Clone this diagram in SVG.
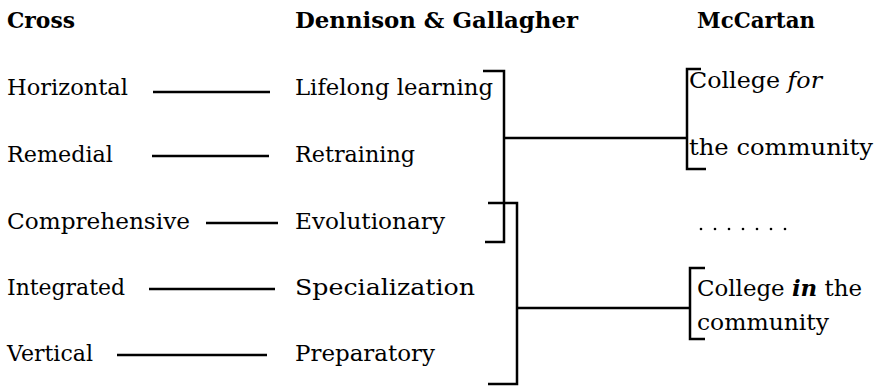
<svg xmlns="http://www.w3.org/2000/svg" width="885" height="389" viewBox="0 0 885 389">
  <style>
    .t { font-family: "DejaVu Serif", "Liberation Serif", serif; font-size: 22px; fill: #000; }
    .h { font-family: "DejaVu Serif", "Liberation Serif", serif; font-size: 22px; font-weight: bold; fill: #000; }
    .ln { stroke: #000; stroke-width: 2.5; fill: none; stroke-linecap: butt; stroke-linejoin: miter; }
    .dot { fill: #000; }
  </style>
  <rect width="885" height="389" fill="#fff"/>

  <g id="headers">
    <text class="h" x="7" y="28" textLength="68" lengthAdjust="spacingAndGlyphs">Cross</text>
    <text class="h" x="295" y="28" textLength="283" lengthAdjust="spacingAndGlyphs">Dennison &amp; Gallagher</text>
    <text class="h" x="697" y="28" textLength="118" lengthAdjust="spacingAndGlyphs">McCartan</text>
  </g>

  <g id="cross-horizontal"><text class="t" x="7" y="95" textLength="121" lengthAdjust="spacingAndGlyphs">Horizontal</text></g>
  <g id="cross-remedial"><text class="t" x="7" y="162" textLength="106" lengthAdjust="spacingAndGlyphs">Remedial</text></g>
  <g id="cross-comprehensive"><text class="t" x="7" y="229" textLength="183" lengthAdjust="spacingAndGlyphs">Comprehensive</text></g>
  <g id="cross-integrated"><text class="t" x="7" y="295" textLength="118" lengthAdjust="spacingAndGlyphs">Integrated</text></g>
  <g id="cross-vertical"><text class="t" x="7" y="361" textLength="86" lengthAdjust="spacingAndGlyphs">Vertical</text></g>

  <g id="dg-lifelong"><text class="t" x="295" y="95" textLength="198" lengthAdjust="spacingAndGlyphs">Lifelong learning</text></g>
  <g id="dg-retraining"><text class="t" x="295" y="162" textLength="120" lengthAdjust="spacingAndGlyphs">Retraining</text></g>
  <g id="dg-evolutionary"><text class="t" x="295" y="229" textLength="150" lengthAdjust="spacingAndGlyphs">Evolutionary</text></g>
  <g id="dg-specialization"><text class="t" x="295" y="295" textLength="180" lengthAdjust="spacingAndGlyphs">Specialization</text></g>
  <g id="dg-preparatory"><text class="t" x="295" y="361" textLength="140" lengthAdjust="spacingAndGlyphs">Preparatory</text></g>

  <g id="mc-for">
    <text class="t" x="689" y="88" textLength="133" lengthAdjust="spacingAndGlyphs">College <tspan font-style="italic">for</tspan></text>
    <text class="t" x="689" y="155" textLength="184" lengthAdjust="spacingAndGlyphs">the community</text>
  </g>
  <g id="mc-dots">
    <circle class="dot" cx="701" cy="229" r="1.3"/>
    <circle class="dot" cx="715" cy="229" r="1.3"/>
    <circle class="dot" cx="729" cy="229" r="1.3"/>
    <circle class="dot" cx="743" cy="229" r="1.3"/>
    <circle class="dot" cx="757" cy="229" r="1.3"/>
    <circle class="dot" cx="771" cy="229" r="1.3"/>
    <circle class="dot" cx="785" cy="229" r="1.3"/>
  </g>
  <g id="mc-in">
    <text class="t" x="697" y="296" textLength="165" lengthAdjust="spacingAndGlyphs">College <tspan font-style="italic" font-weight="bold">in</tspan> the</text>
    <text class="t" x="697" y="330" textLength="132" lengthAdjust="spacingAndGlyphs">community</text>
  </g>

  <g id="connectors">
    <line class="ln" x1="153" y1="92" x2="270" y2="92"/>
    <line class="ln" x1="152" y1="156" x2="269" y2="156"/>
    <line class="ln" x1="206" y1="223" x2="278" y2="223"/>
    <line class="ln" x1="149" y1="289" x2="275" y2="289"/>
    <line class="ln" x1="117" y1="355" x2="267" y2="355"/>

    <path class="ln" d="M483,71 H504 V242 H485"/>
    <path class="ln" d="M504,138 H687"/>
    <path class="ln" d="M701,69 H687 V169 H706"/>

    <path class="ln" d="M488,203 H517 V384 H488"/>
    <path class="ln" d="M517,308 H690"/>
    <path class="ln" d="M705,268 H690 V339 H705"/>
  </g>
</svg>
